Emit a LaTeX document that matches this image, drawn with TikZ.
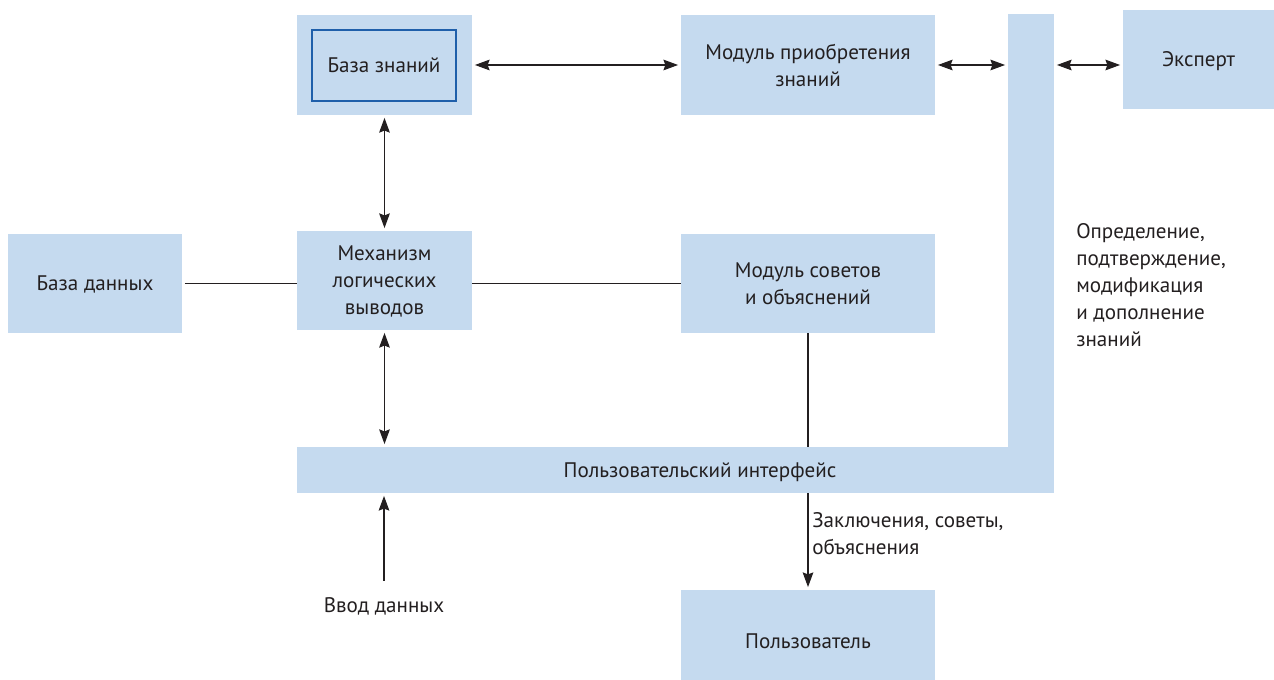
\documentclass[tikz,border=0pt]{standalone}
\usepackage{fontspec}
\setmainfont{PT Sans}
\usetikzlibrary{arrows.meta}
\definecolor{boxblue}{HTML}{C5DAEF}
\definecolor{edgeblue}{HTML}{1F5FAA}
\definecolor{ink}{HTML}{231F20}
\begin{document}
\begin{tikzpicture}[x=0.75pt,y=-0.75pt,
  every node/.style={font=\fontsize{15.8}{20.3}\selectfont, text=ink},
  blk/.style 2 args={fill=boxblue, draw=none, inner sep=0pt, align=center, text depth=0pt,
     minimum width=#1*0.75pt, minimum height=#2*0.75pt},
  inner/.style 2 args={fill=boxblue, draw=edgeblue, line width=1.4pt, inner sep=0pt, align=center, text depth=0pt,
     minimum width=#1*0.75pt, minimum height=#2*0.75pt},
  lbl/.style={inner sep=0pt, align=left},
  con/.style={draw=ink, line width=0.9pt},
  tip/.tip={Stealth[length=11pt,width=8pt,inset=1.5pt]},
  biarrow/.style={con, tip-tip, shorten <=2pt, shorten >=2pt},
  oarrow/.style={con, -tip, shorten >=2pt}]
\useasboundingbox (0,0) rectangle (1274,680);
% boxes
\node[blk={175}{100}] (bz) at (384.5,65) {};
\node[inner={144}{71}] (bzi) at (384,65.5) {База знаний};
\node[blk={254}{100}] (mpz) at (808,65) {Модуль приобретения\\знаний};
\node[blk={46}{479}] (bar) at (1031,253.5) {};
\node[blk={151}{99}] (exp) at (1198.5,59.5) {Эксперт};
\node[blk={174}{99}] (bd) at (95,283.5) {База данных};
\node[blk={175}{99}] (mech) at (384.5,280.5) {Механизм\\логических\\выводов};
\node[blk={254}{99}] (ms) at (808,283.5) {Модуль советов\\и объяснений};
\node[blk={712}{46}] (iface) at (653,470) {};
\node[inner sep=0pt, text depth=0pt] (iftext) at (700,470) {Пользовательский интерфейс};
\node[blk={254}{102}] (user) at (808,641) {Пользователь};
% labels
\node[lbl, anchor=west] (opr) at (1076,285) {Определение,\\подтверждение,\\модификация\\и дополнение\\знаний};
\node[lbl, anchor=north west] (zakl) at (812,512) {Заключения, советы,\\объяснения};
\node[inner sep=0pt] (vvod) at (384,606) {Ввод данных};
% connectors
\draw[biarrow] (bz.east) -- (mpz.west);
\draw[biarrow] (mpz.east) -- (mpz.east -| bar.west);
\draw[biarrow] (bar.east |- mpz.east) -- (exp.west |- mpz.east);
\draw[biarrow] (bz.south) -- (mech.north);
\draw[con] ([xshift=2pt]bd.east) -- (bd.east -| mech.west);
\draw[con] (mech.east |- ms.west) -- (ms.west);
\draw[con] (ms.south) -- (ms.south |- iface.north);
\draw[biarrow] (mech.south) -- (mech.south |- iface.north);
\draw[oarrow] ([yshift=12pt]vvod.north) -- (vvod.north |- iface.south);
\draw[oarrow] (user.north |- iface.south) -- (user.north);
\end{tikzpicture}
\end{document}
